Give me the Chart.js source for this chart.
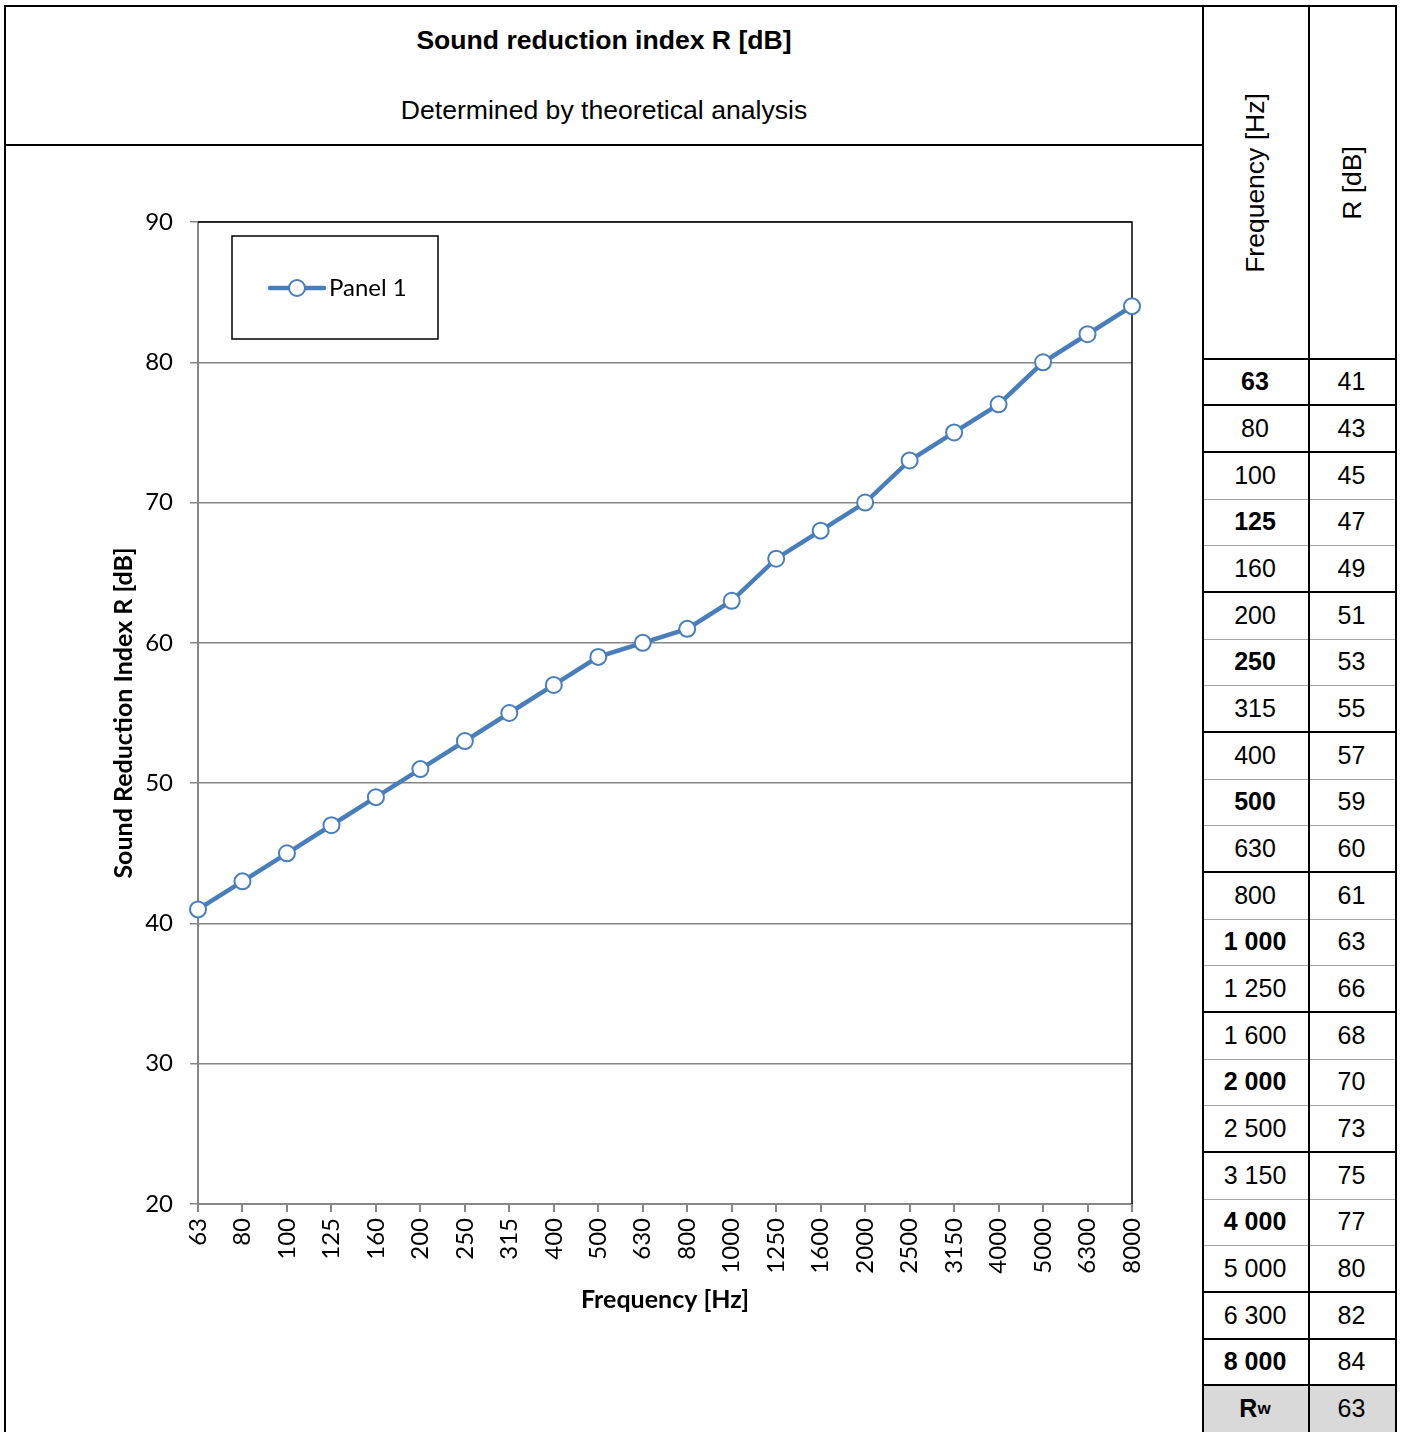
<!DOCTYPE html>
<html>
<head>
<meta charset="utf-8">
<script src="https://cdn.jsdelivr.net/npm/chart.js@4.4.0/dist/chart.umd.min.js"></script>
<style>
body { margin: 0; background: #fff; width: 1402px; height: 1432px; position: relative; overflow: hidden; font-family: "Liberation Sans", Arial, sans-serif; }
.ln { position: absolute; background: #000; }
.thin { background: #a6a6a6; }
.txt { position: absolute; text-align: center; color: #000; }
.cell { position: absolute; display: flex; align-items: center; justify-content: center; font-size: 25px; color: #000; }
#chartWrap { position: absolute; left: 6px; top: 146px; width: 1196px; height: 1286px; }
</style>
</head>
<body>
<div class="txt" style="left:6px;width:1196px;top:25px;font-size:26.6px;font-weight:bold;">Sound reduction index R [dB]</div>
<div class="txt" style="left:6px;width:1196px;top:95px;font-size:26.6px;">Determined by theoretical analysis</div>
<div id="chartWrap"><canvas id="rChart" width="1196" height="1286"></canvas></div>
<script>
// frequency bands and R values
const frequencies = [63, 80, 100, 125, 160, 200, 250, 315, 400, 500, 630, 800, 1000, 1250, 1600, 2000, 2500, 3150, 4000, 5000, 6300, 8000];
const rValues = [41, 43, 45, 47, 49, 51, 53, 55, 57, 59, 60, 61, 63, 66, 68, 70, 73, 75, 77, 80, 82, 84];
const yTicks = [20, 30, 40, 50, 60, 70, 80, 90];
const boldFrequencies = [63, 125, 250, 500, 1000, 2000, 4000, 8000];
const rwValue = 63;

// rows followed by a heavy line in the table
const heavyAfter = [0, 1, 4, 7, 10, 13, 16, 19, 20, 21];

const BLUE = '#4a7ebb';
const GREY = '#868686';

function fmt(n) {
    return String(n).replace(/\B(?=(\d{3})+(?!\d))/g, ' ');
}

function line(x, y, w, h, cls) {
    const d = document.createElement('div');
    d.className = 'ln' + (cls ? ' ' + cls : '');
    d.style.left = x + 'px'; d.style.top = y + 'px';
    d.style.width = w + 'px'; d.style.height = h + 'px';
    document.body.appendChild(d);
}

function cell(x, y, w, h, html, bold, bg) {
    const d = document.createElement('div');
    d.className = 'cell';
    d.style.left = x + 'px'; d.style.top = y + 'px';
    d.style.width = w + 'px'; d.style.height = h + 'px';
    if (bold) d.style.fontWeight = 'bold';
    if (bg) d.style.background = bg;
    d.innerHTML = html;
    document.body.appendChild(d);
}

// table
const colA = 1202, colB = 1308, colC = 1395;
const rowTop = 358.5, rowH = 46.67;

cell(colA, rowTop + frequencies.length * rowH, colB - colA, rowH, '', false, '#d9d9d9');
cell(colB, rowTop + frequencies.length * rowH, colC - colB, rowH, '', false, '#d9d9d9');

frequencies.forEach((f, i) => {
    const y = rowTop + i * rowH;
    cell(colA, y, colB - colA, rowH, fmt(f), boldFrequencies.includes(f));
    cell(colB, y, colC - colB, rowH, String(rValues[i]));
    if (heavyAfter.includes(i)) line(colA, Math.round(y + rowH) - 1, colC - colA + 2, 2);
    else line(colA, Math.round(y + rowH), colC - colA, 1, 'thin');
});
const rwY = rowTop + frequencies.length * rowH;
cell(colA, rwY, colB - colA, rowH, 'R<sub style="font-size:17px">w</sub>', true);
cell(colB, rwY, colC - colB, rowH, String(rwValue));

// header cells
const hdr1 = document.createElement('div');
hdr1.className = 'txt';
hdr1.style.cssText = 'left:1255px;top:183px;font-size:26.5px;white-space:nowrap;transform:translate(-50%,-50%) rotate(-90deg);';
hdr1.textContent = 'Frequency [Hz]';
document.body.appendChild(hdr1);
const hdr2 = document.createElement('div');
hdr2.className = 'txt';
hdr2.style.cssText = 'left:1352px;top:183px;font-size:26.5px;white-space:nowrap;transform:translate(-50%,-50%) rotate(-90deg);';
hdr2.textContent = 'R [dB]';
document.body.appendChild(hdr2);

// frame lines
line(4, 5, colC - 4 + 2, 2);          // top
line(4, 5, 2, 1432);                  // left
line(4, 144, colA - 4, 2);            // under title
line(colA, 5, 2, 1432);               // table left
line(colB, 5, 2, 1432);               // table middle
line(colC, 5, 2, 1432);               // table right
line(colA, 358, colC - colA + 2, 2);  // under header

// plot border (top and right in black)
const plotFrame = {
    id: 'plotFrame',
    beforeDatasetsDraw(chart) {
        const a = chart.chartArea;
        const c = chart.ctx;
        c.save();
        c.strokeStyle = '#000';
        c.lineWidth = 1.5;
        c.beginPath();
        c.moveTo(a.left, a.top);
        c.lineTo(a.right, a.top);
        c.lineTo(a.right, a.bottom);
        c.stroke();
        c.restore();
    }
};

// legend box inside the plot
const legendBox = {
    id: 'legendBox',
    afterDraw(chart) {
        const a = chart.chartArea;
        const c = chart.ctx;
        const ds = chart.data.datasets[0];
        const x = a.left + 34, y = a.top + 14;
        c.save();
        c.fillStyle = '#fff';
        c.fillRect(x, y, 206, 103);
        c.strokeStyle = '#000';
        c.lineWidth = 1.5;
        c.strokeRect(x, y, 206, 103);
        const ly = y + 52;
        c.strokeStyle = ds.borderColor;
        c.lineWidth = ds.borderWidth;
        c.lineCap = 'round';
        c.beginPath();
        c.moveTo(x + 38, ly);
        c.lineTo(x + 92, ly);
        c.stroke();
        c.beginPath();
        c.arc(x + 65, ly, ds.pointRadius, 0, Math.PI * 2);
        c.fillStyle = '#fff';
        c.fill();
        c.lineWidth = ds.pointBorderWidth;
        c.stroke();
        c.fillStyle = '#000';
        c.font = '24px Lato';
        c.textBaseline = 'middle';
        c.fillText(ds.label, x + 97, ly);
        c.restore();
    }
};

new Chart(document.getElementById('rChart').getContext('2d'), {
    type: 'line',
    data: {
        labels: frequencies.map(String),
        datasets: [{
            label: 'Panel 1',
            data: rValues,
            borderColor: BLUE,
            backgroundColor: BLUE,
            borderWidth: 4.5,
            pointRadius: 8,
            pointBackgroundColor: '#fff',
            pointBorderColor: BLUE,
            pointBorderWidth: 2,
            tension: 0,
            clip: false
        }]
    },
    options: {
        responsive: false,
        animation: false,
        layout: { padding: { top: 76, right: 70, left: 0, bottom: 0 } },
        plugins: {
            legend: { display: false },
            tooltip: { enabled: false }
        },
        scales: {
            x: {
                offset: false,
                grid: { drawOnChartArea: false, drawTicks: true, tickLength: 8, color: GREY, lineWidth: 2 },
                border: { color: GREY, width: 2 },
                ticks: {
                    autoSkip: false, minRotation: 90, maxRotation: 90,
                    color: '#000', padding: 6,
                    font: { family: 'Lato', size: 24 }
                },
                title: {
                    display: true, text: 'Frequency [Hz]', color: '#000',
                    font: { family: 'Lato', size: 25, weight: 'bold' },
                    padding: { top: 0, bottom: 117 }
                },
                afterFit: function(scale) { scale.height = 228; }
            },
            y: {
                min: 20,
                max: 90,
                afterBuildTicks: function(scale) { scale.ticks = yTicks.map(v => ({ value: v })); },
                grid: { color: GREY, lineWidth: 1.5, tickLength: 8 },
                border: { color: GREY, width: 2 },
                ticks: {
                    color: '#000', padding: 17,
                    font: { family: 'Lato', size: 24 }
                },
                title: {
                    display: true, text: 'Sound Reduction Index R [dB]', color: '#000',
                    font: { family: 'Lato', size: 25, weight: 'bold' },
                    padding: { top: 103, bottom: 0 }
                },
                afterFit: function(scale) { scale.width = 192; }
            }
        }
    },
    plugins: [plotFrame, legendBox]
});
</script>
</body>
</html>
